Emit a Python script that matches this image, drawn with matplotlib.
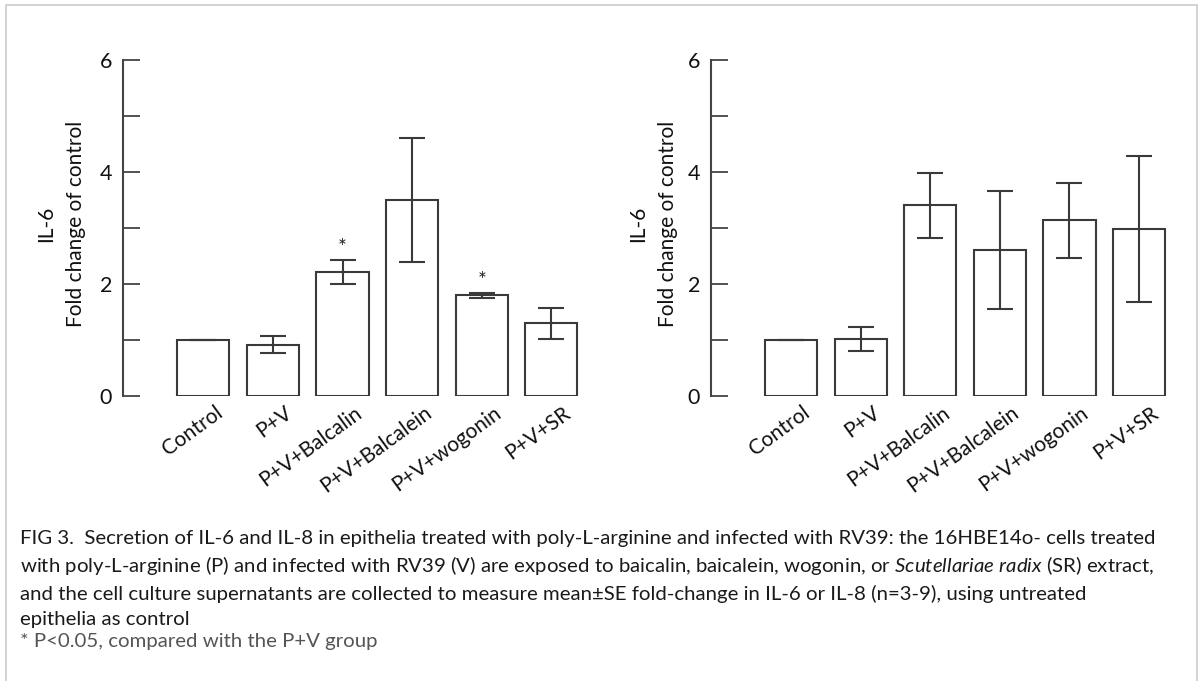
import matplotlib
matplotlib.use("Agg")
import matplotlib.pyplot as plt
import numpy as np
from matplotlib.patches import Rectangle

plt.rcParams['font.family'] = ['Lato', 'DejaVu Sans']
plt.rcParams['mathtext.fontset'] = 'custom'
plt.rcParams['mathtext.rm'] = 'Lato'
plt.rcParams['mathtext.it'] = 'Lato:italic'

categories = ["Control", "P+V", "P+V+Balcalin", "P+V+Balcalein", "P+V+wogonin", "P+V+SR"]

left_values = [1.00, 0.92, 2.22, 3.50, 1.80, 1.30]
left_errors = [0.00, 0.15, 0.22, 1.10, 0.05, 0.27]
left_sig = [False, False, True, False, True, False]

right_values = [1.00, 1.02, 3.41, 2.61, 3.14, 2.99]
right_errors = [0.00, 0.22, 0.58, 1.05, 0.67, 1.30]
right_sig = [False, False, False, False, False, False]

ylabel_text = "IL-6\nFold change of control"
yticks = [0, 1, 2, 3, 4, 5, 6]
ytick_labels = ["0", "", "2", "", "4", "", "6"]

caption_lines = [
    "FIG 3.  Secretion of IL-6 and IL-8 in epithelia treated with poly-L-arginine and infected with RV39: the 16HBE14o- cells treated",
    r"with poly-L-arginine (P) and infected with RV39 (V) are exposed to baicalin, baicalein, wogonin, or $\mathit{Scutellariae\ radix}$ (SR) extract,",
    "and the cell culture supernatants are collected to measure mean\u00b1SE fold-change in IL-6 or IL-8 (n=3-9), using untreated",
    "epithelia as control",
]
footnote = "* P<0.05, compared with the P+V group"

W, H = 1203, 681
fig = plt.figure(figsize=(W / 100, H / 100), dpi=100)

# light border frame
fig.add_artist(Rectangle((6 / W, -0.05), (1196.5 - 6) / W, 1 - 5 / H + 0.05,
                         transform=fig.transFigure, fill=False,
                         edgecolor="#cccccc", linewidth=1.2))

edge = "#3a3a3a"
txt = "#111111"
axw = 459.4 / W
axb = 1 - 396.3 / H
axh = 336.3 / H
panels = [
    (123.3 / W, left_values, left_errors, left_sig, (-0.0812, 0.514)),
    (711.0 / W, right_values, right_errors, right_sig, (-0.0718, 0.514)),
]

for left, vals, errs, sig, lab_xy in panels:
    ax = fig.add_axes([left, axb, axw, axh])
    x = np.arange(len(categories))
    ax.bar(x, vals, width=0.75, color="white", edgecolor=edge, linewidth=1.5, zorder=2)
    ax.errorbar(x, vals, yerr=errs, fmt="none", ecolor=edge, elinewidth=1.5,
                capsize=9.6, capthick=1.5, zorder=3)
    for xi, v, e, s in zip(x, vals, errs, sig):
        if s:
            ax.text(xi, v + e + 0.2, "*", ha="center", va="center", fontsize=15, color="#222222")
    ax.set_xlim(-1.15, 5.45)
    ax.set_ylim(0, 6)
    for sp in ["top", "right", "bottom"]:
        ax.spines[sp].set_visible(False)
    ax.spines["left"].set_color("#444444")
    ax.spines["left"].set_linewidth(1.5)
    ax.set_yticks(yticks)
    ax.set_yticklabels(ytick_labels, fontsize=15.5, color=txt)
    ax.tick_params(axis="y", direction="in", length=12, width=1.3, color="#444444", pad=8)
    ax.set_xticks(x)
    ax.set_xticklabels([""] * len(categories))
    ax.tick_params(axis="x", length=0)
    for xi, cat in zip(x, categories):
        ax.annotate(cat, xy=(xi, 0), xycoords=("data", "axes fraction"),
                    xytext=(8, -4.5), textcoords="offset points",
                    rotation=36, ha="right", va="top", rotation_mode="anchor",
                    fontsize=15, color=txt, annotation_clip=False)
    ax.set_ylabel(ylabel_text, fontsize=15, color=txt, linespacing=1.6)
    ax.yaxis.set_label_coords(*lab_xy)

baselines = [544, 572, 600, 625]
for line, yb in zip(caption_lines, baselines):
    fig.text(20.5 / W, 1 - yb / H, line, fontsize=14.7, color="#1a1a1a",
             ha="left", va="baseline")
fig.text(20.5 / W, 1 - 647 / H, footnote, fontsize=14.7, color="#555555",
         ha="left", va="baseline")

fig.savefig("out.png", dpi=100)
